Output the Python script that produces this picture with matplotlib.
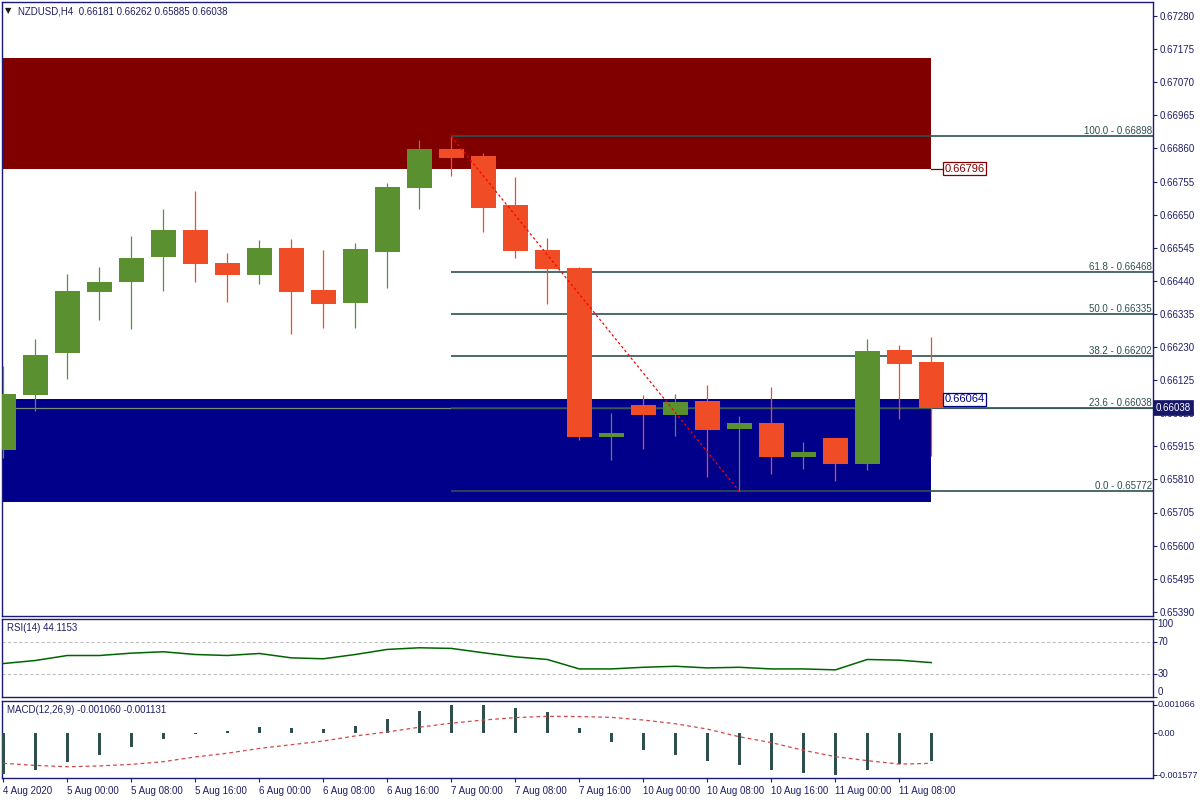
import matplotlib
matplotlib.use('Agg')
import matplotlib.pyplot as plt
from matplotlib.patches import Rectangle
import matplotlib.transforms as mtransforms

plt.rcParams['font.family'] = ['Liberation Sans', 'DejaVu Sans']

# ---------------- data ----------------
symbol_title = "NZDUSD,H4  0.66181 0.66262 0.65885 0.66038"
time_labels = ["4 Aug 2020", "5 Aug 00:00", "5 Aug 08:00", "5 Aug 16:00",
               "6 Aug 00:00", "6 Aug 08:00", "6 Aug 16:00", "7 Aug 00:00",
               "7 Aug 08:00", "7 Aug 16:00", "10 Aug 00:00", "10 Aug 08:00",
               "10 Aug 16:00", "11 Aug 00:00", "11 Aug 08:00"]

opens = [0.65904, 0.66078, 0.66212, 0.66405, 0.66437, 0.66514, 0.66601, 0.66497,
         0.66459, 0.66544, 0.66411, 0.66370, 0.66532, 0.66735, 0.66858, 0.66836,
         0.66681, 0.66538, 0.66481, 0.65946, 0.66046, 0.66015, 0.66059, 0.65970,
         0.65989, 0.65882, 0.65942, 0.65859, 0.66221, 0.66181]
highs = [0.66170, 0.66256, 0.66462, 0.66484, 0.66582, 0.66668, 0.66725, 0.66528,
         0.66570, 0.66573, 0.66538, 0.66560, 0.66750, 0.66887, 0.66898, 0.66846,
         0.66769, 0.66576, 0.66484, 0.66021, 0.66078, 0.66081, 0.66110, 0.66012,
         0.66104, 0.65929, 0.65942, 0.66256, 0.66237, 0.66262]
lows = [0.65879, 0.66028, 0.66129, 0.66316, 0.66288, 0.66408, 0.66437, 0.66373,
        0.66430, 0.66272, 0.66291, 0.66291, 0.66417, 0.66668, 0.66774, 0.66595,
        0.66513, 0.66367, 0.65935, 0.65872, 0.65907, 0.65948, 0.65818, 0.65772,
        0.65828, 0.65844, 0.65806, 0.65840, 0.66002, 0.65885]
closes = [0.66081, 0.66205, 0.66408, 0.66437, 0.66513, 0.66601, 0.66494, 0.66459,
          0.66544, 0.66405, 0.66367, 0.66541, 0.66738, 0.66858, 0.66831, 0.66671,
          0.66535, 0.66478, 0.65946, 0.65958, 0.66015, 0.66056, 0.65967, 0.65989,
          0.65882, 0.65897, 0.65859, 0.66218, 0.66177, 0.66038]

rsi = [42.9, 46.8, 53.2, 53.2, 56.2, 58.0, 54.5, 53.2, 55.8, 50.2, 49.0, 54.5,
       61.0, 63.1, 62.3, 56.7, 51.5, 48.1, 36.0, 36.0, 38.1, 39.4, 37.3, 38.1,
       36.0, 36.0, 34.8, 48.1, 47.2, 44.1153]
macd_hist = [-0.00153, -0.00138, -0.00108, -0.00082, -0.00052, -0.00021, -0.00003,
             0.00009, 0.00024, 0.00020, 0.00016, 0.00027, 0.00054, 0.00084,
             0.001066, 0.00106, 0.00095, 0.00080, 0.00020, -0.00033, -0.00063,
             -0.00082, -0.00104, -0.00119, -0.00138, -0.00150, -0.001577,
             -0.00138, -0.00117, -0.001060]
macd_signal = [-0.00113, -0.00121, -0.00126, -0.00123, -0.00117, -0.00107, -0.00089,
               -0.00075, -0.00057, -0.00043, -0.00029, -0.00010, 0.00005, 0.00023,
               0.00038, 0.00050, 0.00059, 0.00064, 0.00063, 0.00060, 0.00050,
               0.00036, 0.00016, -0.00013, -0.00035, -0.00064, -0.00088, -0.00103,
               -0.00116, -0.001131]

price_ticks = [0.67280, 0.67175, 0.67070, 0.66965, 0.66860, 0.66755, 0.66650,
               0.66545, 0.66440, 0.66335, 0.66230, 0.66125, 0.66020, 0.65915,
               0.65810, 0.65705, 0.65600, 0.65495, 0.65390]
fib_levels = [100.0, 61.8, 50.0, 38.2, 23.6, 0.0]
fib_prices = [0.66898, 0.66468, 0.66335, 0.66202, 0.66038, 0.65772]
fib_start = 14
trend_start = (14, 0.66898)
trend_end = (23, 0.65772)
supply_zone = (0.66796, 0.67147)
demand_zone = (0.65739, 0.66064)
zone_end = 29
bid_price = 0.66038
rsi_levels = [70, 30]
rsi_axis_labels = [100, 70, 30, 0]
macd_axis_labels = [0.001066, 0.0, -0.001577]
macd_axis_text = ["0.001066", "0.00", "-0.001577"]

# ---------------- style ----------------
W, H = 1200, 800
NAVY = '#1a1a78'
TXT = '#1f1f66'
BULL = '#5b9031'
BEAR = '#f04c25'
FS = 7.0

fig = plt.figure(figsize=(12, 8), dpi=100)
fig.patch.set_facecolor('white')


def rect(x0, y0, x1, y1):
    return [x0 / W, 1 - y1 / H, (x1 - x0) / W, (y1 - y0) / H]


X0, X1 = 2, 1153
CW = 32.0  # px per candle
C0 = 3.3   # px of candle 0
xlim = ((X0 - C0) / CW, (X1 - C0) / CW)

ax = fig.add_axes(rect(X0, 2, X1, 616))
ax_rsi = fig.add_axes(rect(X0, 619, X1, 697))
ax_macd = fig.add_axes(rect(X0, 701, X1, 778))

# price scale: 0.67280 at y=16px, 33.1px per 0.00105
ppu = 33.1 / 0.00105
ax.set_ylim(0.67280 - (616 - 16) / ppu, 0.67280 + (16 - 2) / ppu)

for a in (ax, ax_rsi, ax_macd):
    a.set_xlim(*xlim)
    a.set_facecolor('white')
    for s in a.spines.values():
        s.set_color(NAVY)
        s.set_linewidth(1.0)
    a.yaxis.tick_right()
    a.tick_params(axis='y', direction='out', length=3, width=0.8, color=NAVY,
                  labelsize=FS, labelcolor=TXT, pad=2)
    a.tick_params(axis='x', bottom=False, labelbottom=False)

n = len(opens)
xs = list(range(n))

# zones
ax.add_patch(Rectangle((-5, supply_zone[0]), zone_end + 5, supply_zone[1] - supply_zone[0],
                       facecolor='#800000', edgecolor='none', zorder=1))
ax.add_patch(Rectangle((-5, demand_zone[0]), zone_end + 5, demand_zone[1] - demand_zone[0],
                       facecolor='#00008b', edgecolor='none', zorder=1))

# bid line
ax.axhline(bid_price, color='#7c8c7c', lw=0.9, zorder=2)

# fib lines
for lvl, p in zip(fib_levels, fib_prices):
    ax.plot([fib_start, xlim[1] + 1], [p, p], color='#2f4f4f', lw=1.2, zorder=2,
            solid_capstyle='butt')
    ax.text(xlim[1] - 0.03, p, f"{lvl:.1f} - {p:.5f}", ha='right', va='bottom',
            fontsize=FS, color='#2f4f4f', zorder=6)

# candles
bw = 25 / CW
for i, (o, h, l, c) in enumerate(zip(opens, highs, lows, closes)):
    col = BULL if c >= o else BEAR
    ax.plot([i, i], [l, h], color=col, lw=0.9, zorder=3, solid_capstyle='butt')
    bottom = min(o, c)
    height = max(abs(c - o), 0.00003)
    ax.add_patch(Rectangle((i - bw / 2, bottom), bw, height, facecolor=col,
                           edgecolor='none', zorder=4))

# trend line
ax.plot([trend_start[0], trend_end[0]], [trend_start[1], trend_end[1]],
        color='#ff0000', lw=0.9, ls=(0, (2, 2)), zorder=5)

# zone price labels
ax.plot([zone_end, zone_end + 0.35], [supply_zone[0]] * 2, color='#800000', lw=0.9, zorder=5)
ax.text(zone_end + 0.42, supply_zone[0], f"{supply_zone[0]:.5f}", ha='left', va='center',
        fontsize=8.0, color='#800000', zorder=7,
        bbox=dict(boxstyle='square,pad=0.12', fc='white', ec='#800000', lw=0.9))
ax.text(zone_end + 0.42, demand_zone[1], f"{demand_zone[1]:.5f}", ha='left', va='center',
        fontsize=8.0, color='#00008b', zorder=7,
        bbox=dict(boxstyle='square,pad=0.12', fc='white', ec='#00008b', lw=0.9))

# price axis
ax.set_yticks(price_ticks)
ax.set_yticklabels([f"{p:.5f}" for p in price_ticks])
trans = mtransforms.blended_transform_factory(ax.transAxes, ax.transData)
ax.text(1.0025, bid_price, f"{bid_price:.5f}", transform=trans, ha='left', va='center',
        fontsize=FS, color='white', zorder=10, clip_on=False,
        bbox=dict(boxstyle='square,pad=0.25', fc='#17176a', ec='#17176a', lw=0.5))

# header
fig.text(5 / W, 1 - 11 / H, '\u25bc', fontsize=6, color='#1a1a1a', va='center', ha='left',
         family='DejaVu Sans')
fig.text(18 / W, 1 - 11 / H, symbol_title, fontsize=FS, color=TXT, va='center', ha='left')

# RSI
ax_rsi.set_ylim(0, 100)
ax_rsi.plot(xs, rsi, color='#006400', lw=1.1, zorder=3)
for lv in rsi_levels:
    ax_rsi.axhline(lv, color='#c0c0c0', lw=0.8, ls=(0, (3, 2)), zorder=2)
ax_rsi.set_yticks(rsi_axis_labels)
ax_rsi.set_yticklabels([])
rt = mtransforms.blended_transform_factory(ax_rsi.transAxes, ax_rsi.transData)
for v in rsi_axis_labels:
    va = 'top' if v == 100 else ('bottom' if v == 0 else 'center')
    ax_rsi.text(1.004, v, str(v), transform=rt, ha='left', va=va, fontsize=FS,
                color=TXT, clip_on=False)
ax_rsi.text(5 / (X1 - X0), 0.88, f"RSI(14) {rsi[-1]:.4f}", transform=ax_rsi.transAxes,
            ha='left', va='center', fontsize=FS, color=TXT)

# MACD
mppu = 26548.0
zero_px = 733.3
ax_macd.set_ylim(-(778 - zero_px) / mppu, (zero_px - 701) / mppu)
ax_macd.bar(xs, macd_hist, width=3 / CW, color='#2f4f4f', zorder=3)
ax_macd.plot(xs, macd_signal, color='#d04848', lw=0.9, ls=(0, (3, 2.5)), zorder=4)
ax_macd.set_yticks(macd_axis_labels)
ax_macd.set_yticklabels([])
mt = mtransforms.blended_transform_factory(ax_macd.transAxes, ax_macd.transData)
for v, t in zip(macd_axis_labels, macd_axis_text):
    ax_macd.text(1.004, v, t, transform=mt, ha='left', va='center', fontsize=6.5,
                 color=TXT, clip_on=False)
ax_macd.text(5 / (X1 - X0), 0.88,
             f"MACD(12,26,9) {macd_hist[-1]:.6f} {macd_signal[-1]:.6f}",
             transform=ax_macd.transAxes, ha='left', va='center', fontsize=FS, color=TXT)

# time axis
tick_pos = list(range(0, 2 * len(time_labels), 2))
ax_macd.set_xticks(tick_pos)
ax_macd.set_xticklabels(time_labels, ha='left')
ax_macd.tick_params(axis='x', bottom=True, labelbottom=True, direction='out', length=3,
                    width=0.8, color=NAVY, labelsize=FS, labelcolor=TXT, pad=3)

fig.savefig('out.png', dpi=100, facecolor='white')
